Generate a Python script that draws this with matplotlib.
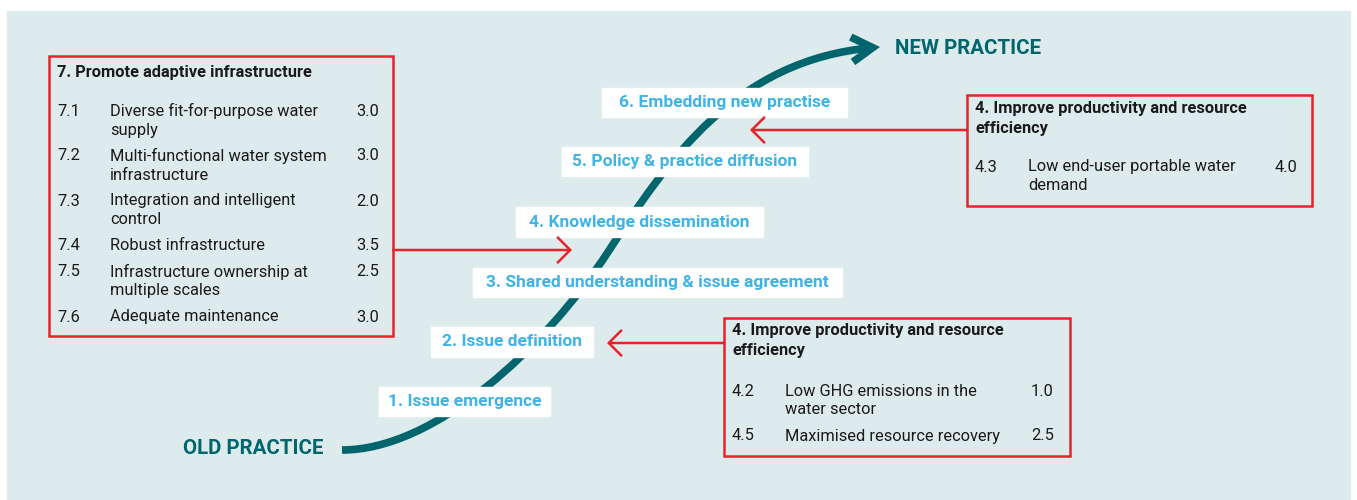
"""
S-curve of practice change: six stages from old to new practice,
with the scored sub-indicators that feed into three of the stages.
"""

import matplotlib
matplotlib.use("Agg")
import matplotlib.pyplot as plt
from matplotlib.patches import Rectangle, FancyArrowPatch, ArrowStyle
from matplotlib.path import Path

BG = "#ddebec"
TEAL = "#00656d"
SKY = "#3db3e6"
RED = "#e6232b"
INK = "#1a1a1a"
FONT = "Roboto"

# stages along the curve
stages = [
    "1. Issue emergence",
    "2. Issue definition",
    "3. Shared understanding & issue agreement",
    "4. Knowledge dissemination",
    "5. Policy & practice diffusion",
    "6. Embedding new practise",
]

# goal 7 box
goal7_title = "7. Promote adaptive infrastructure"
goal7_codes = ["7.1", "7.2", "7.3", "7.4", "7.5", "7.6"]
goal7_items = [
    "Diverse fit-for-purpose water\nsupply",
    "Multi-functional water system\ninfrastructure",
    "Integration and intelligent\ncontrol",
    "Robust infrastructure",
    "Infrastructure ownership at\nmultiple scales",
    "Adequate maintenance",
]
goal7_scores = [3.0, 3.0, 2.0, 3.5, 2.5, 3.0]

# goal 4 box, upper
goal4a_title = "4. Improve productivity and resource\nefficiency"
goal4a_codes = ["4.3"]
goal4a_items = ["Low end-user portable water\ndemand"]
goal4a_scores = [4.0]

# goal 4 box, lower
goal4b_title = "4. Improve productivity and resource\nefficiency"
goal4b_codes = ["4.2", "4.5"]
goal4b_items = ["Low GHG emissions in the\nwater sector", "Maximised resource recovery"]
goal4b_scores = [1.0, 2.5]

# layout (pixel coordinates, y down)
stage_boxes = [
    (379, 387, 171, 29),
    (431, 327, 162, 30),
    (473, 268, 369, 29),
    (516, 207, 247, 30),
    (562, 147, 246, 29),
    (602, 88, 245, 29),
]
LINE = 19
GAP = 7
BODY = 11.8


def draw_lines(ax, x, y, text, pitch=LINE, **kw):
    for i, line in enumerate(text.split("\n")):
        ax.text(x, y + i * pitch, line, va="center", ha="left", **kw)


def draw_goal_box(ax, box, title, title_y, codes, items, scores, first_y, cols):
    x0, y0, w, h = box
    ax.add_patch(Rectangle((x0, y0), w, h, fill=False, ec=RED, lw=1.8, zorder=3))
    draw_lines(ax, x0 + 8, title_y, title, pitch=20, fontsize=BODY, fontweight="bold",
               color=INK, family=FONT)
    y = first_y
    for code, item, score in zip(codes, items, scores):
        draw_lines(ax, cols[0], y, code, fontsize=BODY, color=INK, family=FONT)
        draw_lines(ax, cols[1], y, item, fontsize=BODY, color=INK, family=FONT)
        draw_lines(ax, cols[2], y, f"{score:.1f}", fontsize=BODY, color=INK, family=FONT)
        y += (item.count("\n") + 1) * LINE + GAP


def red_arrow(ax, start, tip):
    ax.annotate("", xy=tip, xytext=start,
                arrowprops=dict(arrowstyle="->,head_length=0.45,head_width=0.45",
                                color=RED, lw=1.8, mutation_scale=20,
                                shrinkA=0, shrinkB=0), zorder=3)


def main():
    fig = plt.figure(figsize=(13.57, 5.0), dpi=100)
    ax = fig.add_axes([0, 0, 1, 1])
    ax.set_xlim(0, 1357)
    ax.set_ylim(500, 0)
    ax.axis("off")

    ax.add_patch(Rectangle((7, 11), 1343, 489, color=BG, zorder=0))

    # the S-curve
    verts = [(342, 450), (435, 450), (545, 348), (608, 252),
             (668, 160), (735, 60), (880, 47)]
    codes = [Path.MOVETO] + [Path.CURVE4] * 6
    curve = FancyArrowPatch(path=Path(verts, codes),
                            arrowstyle=ArrowStyle("->", head_length=15, head_width=9),
                            color=TEAL, lw=5.5, joinstyle="miter", capstyle="butt",
                            zorder=1)
    ax.add_patch(curve)

    ax.text(183, 449, "OLD PRACTICE", fontsize=14.8, fontweight="bold", color=TEAL,
            va="center", ha="left", family=FONT)
    ax.text(895, 48, "NEW PRACTICE", fontsize=14.8, fontweight="bold", color=TEAL,
            va="center", ha="left", family=FONT)

    for label, (x, y, w, h) in zip(stages, stage_boxes):
        ax.add_patch(Rectangle((x, y), w, h, color="white", zorder=2))
        ax.text(x + w / 2, y + h / 2, label, fontsize=12.5, fontweight="bold",
                color=SKY, ha="center", va="center", family=FONT, zorder=3)

    draw_goal_box(ax, (49, 56, 344, 280), goal7_title, 72,
                  goal7_codes, goal7_items, goal7_scores, 111, (57, 110, 356))
    draw_goal_box(ax, (967, 95, 345, 111), goal4a_title, 108,
                  goal4a_codes, goal4a_items, goal4a_scores, 167, (975, 1028, 1275))
    draw_goal_box(ax, (724, 318, 346, 138), goal4b_title, 331,
                  goal4b_codes, goal4b_items, goal4b_scores, 391, (732, 785, 1031))

    red_arrow(ax, (393, 250), (572, 250))
    red_arrow(ax, (967, 130), (750, 130))
    red_arrow(ax, (724, 343), (607, 343))

    fig.savefig("out.png", dpi=100)


if __name__ == "__main__":
    main()
